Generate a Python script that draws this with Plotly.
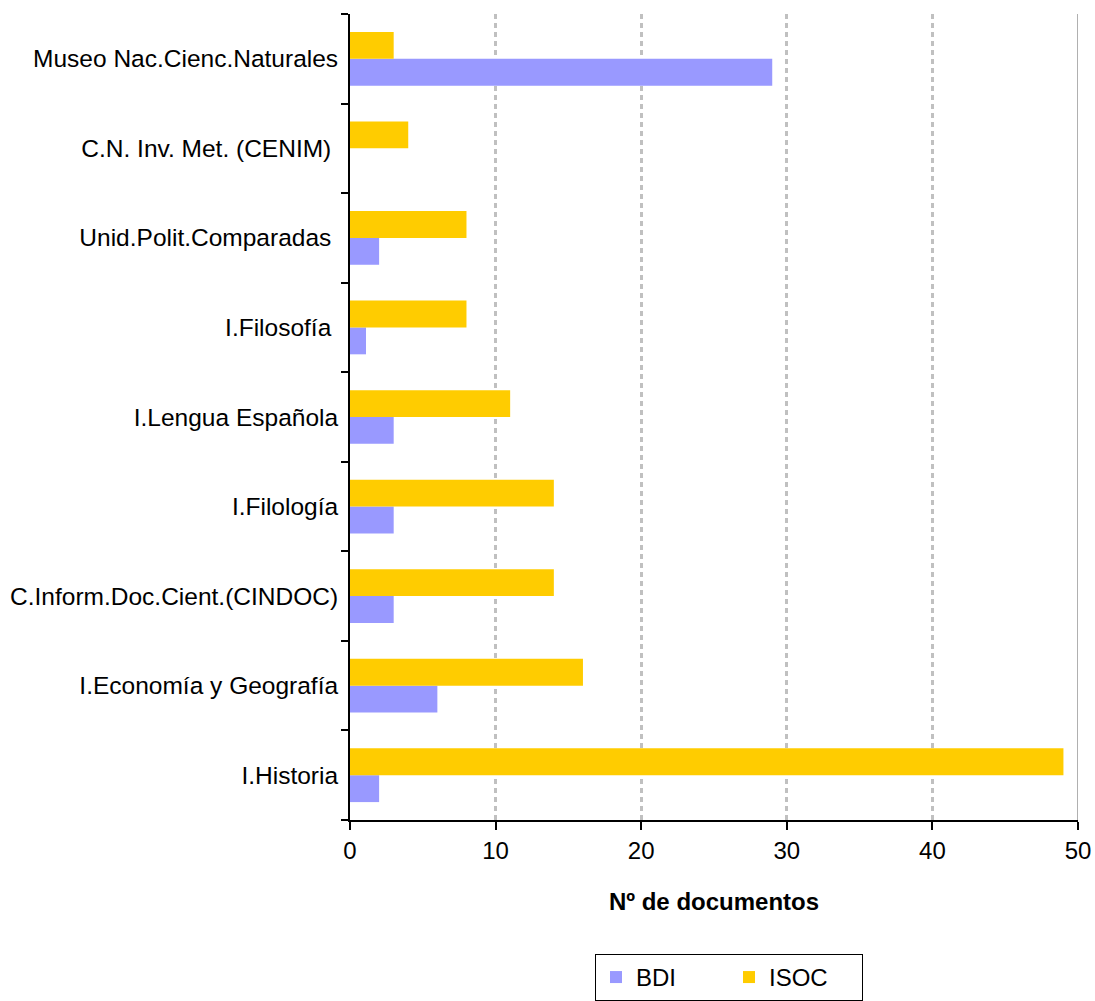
import plotly.graph_objects as go

categories = ["I.Historia", "I.Economía y Geografía", "C.Inform.Doc.Cient.(CINDOC)",
              "I.Filología", "I.Lengua Española", "I.Filosofía\u00a0",
              "Unid.Polit.Comparadas\u00a0", "C.N. Inv. Met. (CENIM)\u00a0",
              "Museo Nac.Cienc.Naturales"]
bdi = [2, 6, 3, 3, 3, 1.1, 2, 0, 29]
isoc = [49, 16, 14, 14, 11, 8, 8, 4, 3]
x_ticks = [0, 10, 20, 30, 40, 50]

fig = go.Figure()
fig.add_trace(go.Bar(y=categories, x=bdi, orientation="h", name="BDI",
                     marker=dict(color="#9999FF", line=dict(width=0))))
fig.add_trace(go.Bar(y=categories, x=isoc, orientation="h", name="ISOC",
                     marker=dict(color="#FFCC00", line=dict(width=0))))

font = "Liberation Sans, Arial, sans-serif"
fig.update_layout(
    width=1095, height=1001,
    margin=dict(l=350, r=17, t=14, b=181),
    barmode="group", bargap=0.4, bargroupgap=0,
    plot_bgcolor="white", paper_bgcolor="white",
    font=dict(family=font, size=24, color="black"),
    showlegend=True,
    legend=dict(orientation="h", xref="container", yref="container",
                x=595 / 1095, xanchor="left", y=0.047, yanchor="top",
                bordercolor="black", borderwidth=1, font=dict(size=24),
                entrywidth=88, itemsizing="constant", traceorder="normal"),
    xaxis=dict(range=[0, 50], tickvals=x_ticks, showgrid=True, automargin=False,
               gridcolor="#C0C0C0", griddash="5px,4px", gridwidth=3,
               showline=True, linecolor="black", linewidth=2,
               ticks="outside", ticklen=8, tickwidth=1.5, tickcolor="black",
               zeroline=False, tickfont=dict(size=24),
               title=dict(text="<b>Nº de documentos</b>", font=dict(size=24), standoff=30)),
    yaxis=dict(showline=True, linecolor="black", linewidth=2, automargin=False,
               ticks="outside", ticklen=7, tickwidth=1.5, tickcolor="black",
               tickson="boundaries", showgrid=False, zeroline=False,
               tickfont=dict(size=24.5), ticklabelstandoff=5),
)
# right border line at 50
fig.add_shape(type="line", xref="x", yref="paper", x0=50, x1=50, y0=0, y1=1,
              line=dict(color="#B0B0B0", width=2))

fig.write_html("out.html", config={"displayModeBar": False},
               post_script="document.body.style.margin='0px';")
